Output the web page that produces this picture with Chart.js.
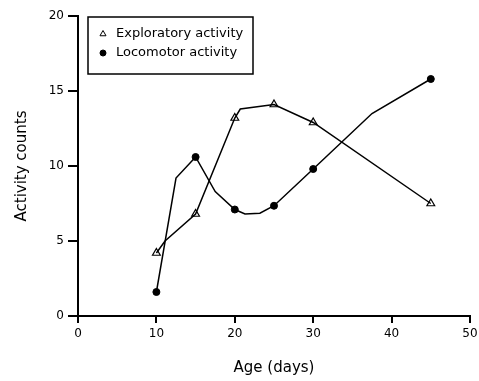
<!DOCTYPE html>
<html>
<head>
<meta charset="utf-8">
<script src="https://cdn.jsdelivr.net/npm/chart.js@4/dist/chart.umd.min.js"></script>
<style>
  html, body { margin: 0; padding: 0; background: #fff; }
  #wrap { width: 479px; height: 381px; position: relative; }
</style>
</head>
<body>
<div id="wrap"><canvas id="chartActividad"></canvas></div>
<script>
// datos
const edades = [10, 15, 20, 25, 30, 45];
const exploratoria = [4.2, 6.8, 13.2, 14.1, 12.9, 7.5];
const locomotora = [1.6, 10.6, 7.1, 7.35, 9.8, 15.8];

// vértices de las curvas ajustadas
const curvaExplX = [10, 11.1, 15, 20, 20.7, 25, 30, 45];
const curvaExplY = [4.2, 5.0, 6.8, 13.2, 13.8, 14.1, 12.9, 7.5];
const curvaLocoX = [10, 12.5, 15, 17.5, 20, 21.3, 23.2, 25, 30, 37.5, 45];
const curvaLocoY = [1.6, 9.2, 10.6, 8.3, 7.1, 6.8, 6.85, 7.35, 9.8, 13.5, 15.8];

const ticksX = [0, 10, 20, 30, 40, 50];
const ticksY = [0, 5, 10, 15, 20];

const etiquetas = ['Exploratory activity', 'Locomotor activity'];

function puntos(xs, ys) {
    return xs.map((x, i) => ({ x, y: ys[i] }));
}

/* ==============================
   LEYENDA CON MARCO
================================ */
const leyendaMarco = {
    id: 'leyendaMarco',
    afterDraw(chart) {
        const ctx = chart.ctx;
        const area = chart.chartArea;
        const x0 = area.left + 10;
        const y0 = area.top + 1;
        const w = 165;
        const h = 57;
        ctx.save();
        ctx.strokeStyle = '#000';
        ctx.lineWidth = 1.5;
        ctx.strokeRect(x0, y0, w, h);
        ctx.font = '13px "DejaVu Sans"';
        ctx.fillStyle = '#000';
        ctx.textBaseline = 'middle';
        const estilos = [
            { pointStyle: 'triangle', radius: 3.5, rotation: 0, borderWidth: 1, fill: '#fff' },
            { pointStyle: 'circle', radius: 3, rotation: 0, borderWidth: 1, fill: '#000' }
        ];
        etiquetas.forEach((txt, i) => {
            const yy = y0 + 17 + i * 19;
            ctx.fillStyle = estilos[i].fill;
            ctx.strokeStyle = '#000';
            ctx.lineWidth = 1;
            Chart.helpers.drawPoint(ctx, estilos[i], x0 + 15, yy);
            ctx.fillStyle = '#000';
            ctx.fillText(txt, x0 + 28, yy);
        });
        ctx.restore();
    }
};

const ctx = document.getElementById('chartActividad');

new Chart(ctx, {
    type: 'scatter',
    data: {
        datasets: [
            {
                label: 'curva exploratoria',
                data: puntos(curvaExplX, curvaExplY),
                showLine: true,
                borderColor: '#000',
                borderWidth: 1.5,
                pointRadius: 0,
                tension: 0
            },
            {
                label: 'curva locomotora',
                data: puntos(curvaLocoX, curvaLocoY),
                showLine: true,
                borderColor: '#000',
                borderWidth: 1.5,
                pointRadius: 0,
                tension: 0
            },
            {
                label: etiquetas[0],
                data: puntos(edades, exploratoria),
                showLine: false,
                pointStyle: 'triangle',
                pointRadius: 4.5,
                pointBackgroundColor: '#fff',
                pointBorderColor: '#000',
                pointBorderWidth: 1.2
            },
            {
                label: etiquetas[1],
                data: puntos(edades, locomotora),
                showLine: false,
                pointStyle: 'circle',
                pointRadius: 3.5,
                pointBackgroundColor: '#000',
                pointBorderColor: '#000',
                pointBorderWidth: 1
            }
        ]
    },
    options: {
        responsive: true,
        maintainAspectRatio: false,
        animation: false,
        layout: { padding: { top: 16, right: 9, left: 0, bottom: 0 } },
        plugins: {
            legend: { display: false },
            tooltip: { enabled: false }
        },
        scales: {
            x: {
                type: 'linear',
                min: 0,
                max: 50,
                afterBuildTicks: s => { s.ticks = ticksX.map(v => ({ value: v })); },
                afterFit: s => { s.height = 65; s.paddingRight = 0; },
                border: { color: '#000', width: 2 },
                grid: { drawOnChartArea: false, color: '#000', lineWidth: 2, tickLength: 7 },
                ticks: { color: '#000', font: { family: 'DejaVu Sans', size: 12 }, padding: 4, maxRotation: 0 },
                title: {
                    display: true,
                    text: 'Age (days)',
                    color: '#000',
                    font: { family: 'DejaVu Sans', size: 15 },
                    padding: { top: 8 }
                }
            },
            y: {
                type: 'linear',
                min: 0,
                max: 20,
                afterBuildTicks: s => { s.ticks = ticksY.map(v => ({ value: v })); },
                afterFit: s => { s.width = 78; },
                border: { color: '#000', width: 2 },
                grid: { drawOnChartArea: false, color: '#000', lineWidth: 2, tickLength: 10 },
                ticks: { color: '#000', font: { family: 'DejaVu Sans', size: 12 }, padding: 4 },
                title: {
                    display: true,
                    text: 'Activity counts',
                    color: '#000',
                    font: { family: 'DejaVu Sans', size: 15 },
                    padding: { top: 13, bottom: 0 }
                }
            }
        }
    },
    plugins: [leyendaMarco]
});
</script>
</body>
</html>
